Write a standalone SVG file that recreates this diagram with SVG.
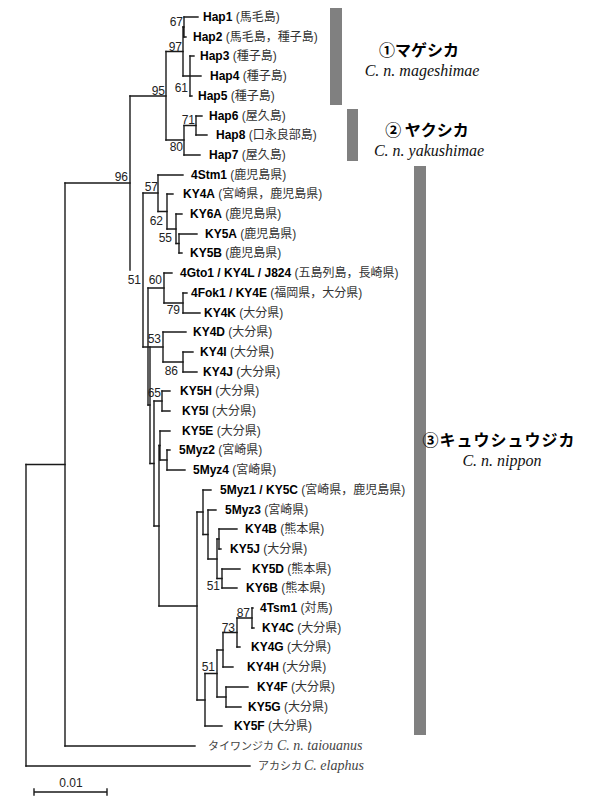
<svg xmlns="http://www.w3.org/2000/svg" width="589" height="800" viewBox="0 0 589 800">
<style>
.lf{font-family:"Liberation Sans","Noto Sans CJK JP",sans-serif;font-size:12px;fill:#333}
.lf .b{font-weight:bold;fill:#000}
.bs{font-family:"Liberation Sans",sans-serif;font-size:12px;fill:#222}
.tree{fill:none;stroke:#1a1a1a;stroke-width:1.4;stroke-linecap:square}
.bar{fill:#808080}
.gt{font-family:"Noto Sans CJK JP",sans-serif;font-weight:bold;font-size:16px;fill:#000;text-anchor:middle}
.gs{font-family:"Liberation Serif",serif;font-style:italic;font-size:16px;fill:#111;text-anchor:middle}
.og{font-family:"Noto Sans CJK JP",sans-serif;font-size:11px;fill:#444}
.ogi{font-family:"Liberation Serif",serif;font-style:italic;font-size:14px;fill:#444}
</style>
<rect width="589" height="800" fill="#fff"/>
<g id="connectors" class="tree">
<path d="M184 17V37M190 56V96M183 27V76M196 116V135M184 125.5V155M166 51.5V140M179 234V253M176 214V243.5M167 194V229M158 175V211.5M183 293V313M164 273V303M183 352V372M163 332V362M162 391V411M167 450V470M160 431V460M219 529V549M222 569V588M217 539V578.5M208 510V559M203 490V534.5M252 608V628M237 618V647M223 632.5V667M226 687V707M217 650V697M205 673.5V726M197 512V700M159 445.5V606M154 401V526M150 347V463.5M148 288V405M143 193V347M130 96V270M65 183V746M26 464.5V766"/>
<path d="M184 17H198M184 37H186M183 27H184M190 56H194M183 76H201M190 96H192M166 51.5H183M196 116H202M196 135H207M184 125.5H196M184 155H200M166 140H184M130 96H166M158 175H183M167 194H173M176 214H182M179 234H197M179 253H182M176 243.5H179M167 229H176M158 211.5H167M143 193H158M164 273H172M183 293H187M183 313H200M164 303H183M148 288H164M163 332H186M183 352H193M183 372H197M163 362H183M143 347H163M148 405H150M162 391H170M162 411H170M154 401H162M160 431H170M167 450H170M167 470H185M160 460H167M159 445.5H160M203 490H211M208 510H216M219 529H237M219 549H221M217 539H219M222 569H240M222 588H237M217 578.5H222M208 559H217M203 534.5H208M197 512H203M252 608H253M252 628H254M237 618H252M237 647H240M223 632.5H237M223 667H233M217 650H223M226 687H248M226 707H241M217 697H226M205 673.5H217M205 726H222M197 700H205M159 606H197M154 526H159M150 463.5H154M65 183H130M65 746H195M26 464.5H65M26 766H250"/>
</g>
<g id="bootstrap" class="bs" text-anchor="end">
<text x="183" y="26">67</text>
<text x="182" y="51">97</text>
<text x="188" y="92">61</text>
<text x="165" y="95">95</text>
<text x="195" y="124">71</text>
<text x="183" y="151">80</text>
<text x="128" y="181">96</text>
<text x="158" y="191">57</text>
<text x="163" y="225">62</text>
<text x="172" y="242">55</text>
<text x="141" y="284">51</text>
<text x="162" y="284">60</text>
<text x="180" y="314">79</text>
<text x="161" y="343">53</text>
<text x="178" y="375">86</text>
<text x="161" y="397">65</text>
<text x="220" y="590">51</text>
<text x="250" y="617">87</text>
<text x="235" y="632">73</text>
<text x="215" y="671">51</text>
</g>
<g id="leaves" class="lf">
<g id="n-hap1"><text x="203" y="21"><tspan class="b">Hap1</tspan> (馬毛島)</text></g>
<g id="n-hap2"><text x="193" y="41"><tspan class="b">Hap2</tspan> (馬毛島，種子島)</text></g>
<g id="n-hap3"><text x="200" y="60"><tspan class="b">Hap3</tspan> (種子島)</text></g>
<g id="n-hap4"><text x="210" y="80"><tspan class="b">Hap4</tspan> (種子島)</text></g>
<g id="n-hap5"><text x="198" y="100"><tspan class="b">Hap5</tspan> (種子島)</text></g>
<g id="n-hap6"><text x="209" y="120"><tspan class="b">Hap6</tspan> (屋久島)</text></g>
<g id="n-hap8"><text x="216" y="139"><tspan class="b">Hap8</tspan> (口永良部島)</text></g>
<g id="n-hap7"><text x="209" y="159"><tspan class="b">Hap7</tspan> (屋久島)</text></g>
<g id="n-4stm1"><text x="191" y="179"><tspan class="b">4Stm1</tspan> (鹿児島県)</text></g>
<g id="n-ky4a"><text x="183" y="198"><tspan class="b">KY4A</tspan> (宮崎県，鹿児島県)</text></g>
<g id="n-ky6a"><text x="190" y="218"><tspan class="b">KY6A</tspan> (鹿児島県)</text></g>
<g id="n-ky5a"><text x="205" y="238"><tspan class="b">KY5A</tspan> (鹿児島県)</text></g>
<g id="n-ky5b"><text x="190" y="257"><tspan class="b">KY5B</tspan> (鹿児島県)</text></g>
<g id="n-4gto1"><text x="180" y="277"><tspan class="b">4Gto1 / KY4L / J824</tspan> (五島列島，長崎県)</text></g>
<g id="n-4fok1"><text x="191" y="297"><tspan class="b">4Fok1 / KY4E</tspan> (福岡県，大分県)</text></g>
<g id="n-ky4k"><text x="204" y="317"><tspan class="b">KY4K</tspan> (大分県)</text></g>
<g id="n-ky4d"><text x="193" y="336"><tspan class="b">KY4D</tspan> (大分県)</text></g>
<g id="n-ky4i"><text x="200" y="356"><tspan class="b">KY4I</tspan> (大分県)</text></g>
<g id="n-ky4j"><text x="203" y="376"><tspan class="b">KY4J</tspan> (大分県)</text></g>
<g id="n-ky5h"><text x="180" y="395"><tspan class="b">KY5H</tspan> (大分県)</text></g>
<g id="n-ky5i"><text x="182" y="415"><tspan class="b">KY5I</tspan> (大分県)</text></g>
<g id="n-ky5e"><text x="182" y="435"><tspan class="b">KY5E</tspan> (大分県)</text></g>
<g id="n-5myz2"><text x="179" y="454"><tspan class="b">5Myz2</tspan> (宮崎県)</text></g>
<g id="n-5myz4"><text x="193" y="474"><tspan class="b">5Myz4</tspan> (宮崎県)</text></g>
<g id="n-5myz1"><text x="220" y="494"><tspan class="b">5Myz1 / KY5C</tspan> (宮崎県，鹿児島県)</text></g>
<g id="n-5myz3"><text x="225" y="514"><tspan class="b">5Myz3</tspan> (宮崎県)</text></g>
<g id="n-ky4b"><text x="245" y="533"><tspan class="b">KY4B</tspan> (熊本県)</text></g>
<g id="n-ky5j"><text x="230" y="553"><tspan class="b">KY5J</tspan> (大分県)</text></g>
<g id="n-ky5d"><text x="252" y="573"><tspan class="b">KY5D</tspan> (熊本県)</text></g>
<g id="n-ky6b"><text x="246" y="592"><tspan class="b">KY6B</tspan> (熊本県)</text></g>
<g id="n-4tsm1"><text x="260" y="612"><tspan class="b">4Tsm1</tspan> (対馬)</text></g>
<g id="n-ky4c"><text x="262" y="632"><tspan class="b">KY4C</tspan> (大分県)</text></g>
<g id="n-ky4g"><text x="251" y="651"><tspan class="b">KY4G</tspan> (大分県)</text></g>
<g id="n-ky4h"><text x="247" y="671"><tspan class="b">KY4H</tspan> (大分県)</text></g>
<g id="n-ky4f"><text x="257" y="691"><tspan class="b">KY4F</tspan> (大分県)</text></g>
<g id="n-ky5g"><text x="248" y="711"><tspan class="b">KY5G</tspan> (大分県)</text></g>
<g id="n-ky5f"><text x="234" y="730"><tspan class="b">KY5F</tspan> (大分県)</text></g>
<g id="n-taiouanus"><text y="750"><tspan class="og" x="208">タイワンジカ </tspan><tspan class="ogi" x="277">C. n. taiouanus</tspan></text></g>
<g id="n-elaphus"><text y="770"><tspan class="og" x="258">アカシカ </tspan><tspan class="ogi" x="304">C. elaphus</tspan></text></g>
</g>
<g id="group-mageshimae">
<rect class="bar" x="330" y="8" width="12" height="97"/>
<text class="gt" x="419" y="56">①マゲシカ</text>
<text class="gs" x="422" y="76">C. n. mageshimae</text>
</g>
<g id="group-yakushimae">
<rect class="bar" x="347" y="109" width="11" height="52"/>
<text class="gt" x="427" y="136">② ヤクシカ</text>
<text class="gs" x="429" y="156">C. n. yakushimae</text>
</g>
<g id="group-nippon">
<rect class="bar" x="414" y="166" width="12" height="569"/>
<text class="gt" x="499" y="446" letter-spacing="1">③キュウシュウジカ</text>
<text class="gs" x="502" y="466">C. n. nippon</text>
</g>
<g id="scale-bar">
<path class="tree" d="M34 792H107M34 789V795M107 789V795"/>
<text class="bs" x="71" y="787" text-anchor="middle">0.01</text>
</g>
</svg>
